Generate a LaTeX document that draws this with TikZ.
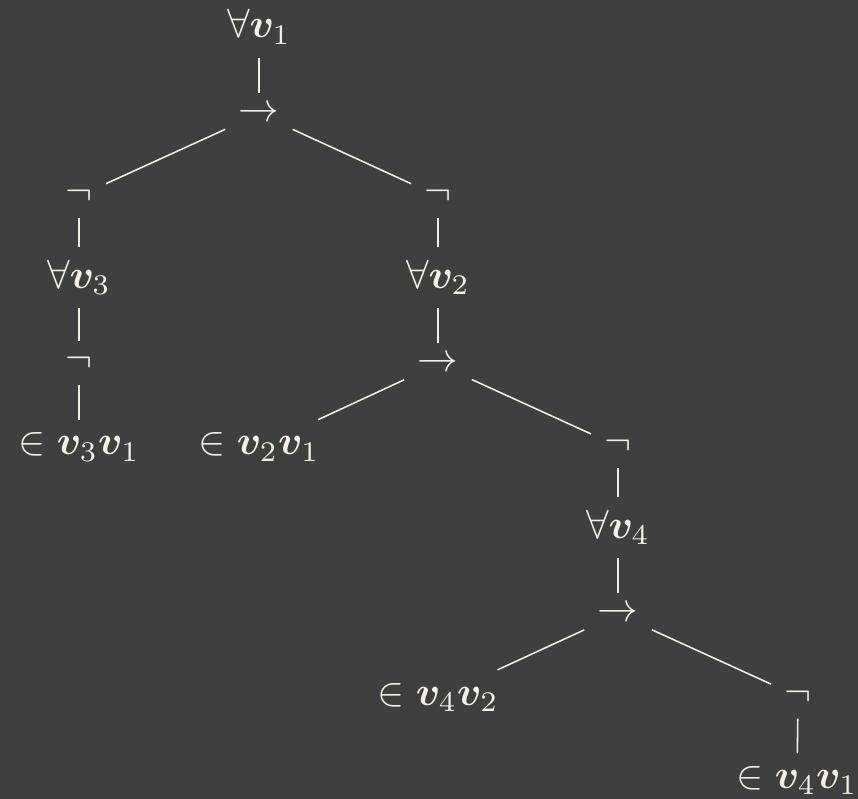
\documentclass[tikz,border=0pt]{standalone}
\usepackage{amsmath,bm}
\definecolor{bgc}{HTML}{3F3F3F}
\definecolor{ink}{HTML}{F4F0E2}
\begin{document}
\begin{tikzpicture}[x=0.2458pt,y=-0.2458pt,
  tn/.style={anchor=base,text=ink,inner sep=3.1pt},
  edge/.style={draw=ink,line width=0.38pt}]
\fill[bgc] (0,0) rectangle (858,799);
\useasboundingbox (0,0) rectangle (858,799);
% levels: baseline y = 38 + 83.4 k
\node[tn] (r)   at (259,38)    {$\forall\bm{v}_1$};
\node[tn] (i1)  at (259,121.4) {$\rightarrow$};
\node[tn] (n1)  at (79,204.8)  {$\neg$};
\node[tn] (n2)  at (438,204.8) {$\neg$};
\node[tn] (a3)  at (79,288.2)  {$\forall\bm{v}_3$};
\node[tn] (a2)  at (438,288.2) {$\forall\bm{v}_2$};
\node[tn] (n3)  at (79,371.6)  {$\neg$};
\node[tn] (i2)  at (438,371.6) {$\rightarrow$};
\node[tn] (e31) at (79,455)    {$\in\bm{v}_3\bm{v}_1$};
\node[tn] (e21) at (259,455)   {$\in\bm{v}_2\bm{v}_1$};
\node[tn] (n4)  at (618,455)   {$\neg$};
\node[tn] (a4)  at (618,538.4) {$\forall\bm{v}_4$};
\node[tn] (i3)  at (618,621.8) {$\rightarrow$};
\node[tn] (e42) at (438,705.2) {$\in\bm{v}_4\bm{v}_2$};
\node[tn] (n5)  at (798,705.2) {$\neg$};
\node[tn] (e41) at (797,788.6) {$\in\bm{v}_4\bm{v}_1$};
% connectors
\path[edge] (r) -- (i1);
\path[edge] (i1) -- (n1);
\path[edge] (i1) -- (n2);
\path[edge] (n1) -- (a3);
\path[edge] (a3) -- (n3);
\path[edge] (n3) -- (e31);
\path[edge] (n2) -- (a2);
\path[edge] (a2) -- (i2);
\path[edge] (i2) -- (e21);
\path[edge] (i2) -- (n4);
\path[edge] (n4) -- (a4);
\path[edge] (a4) -- (i3);
\path[edge] (i3) -- (e42);
\path[edge] (i3) -- (n5);
\path[edge] (n5) -- (e41);
\end{tikzpicture}
\end{document}
